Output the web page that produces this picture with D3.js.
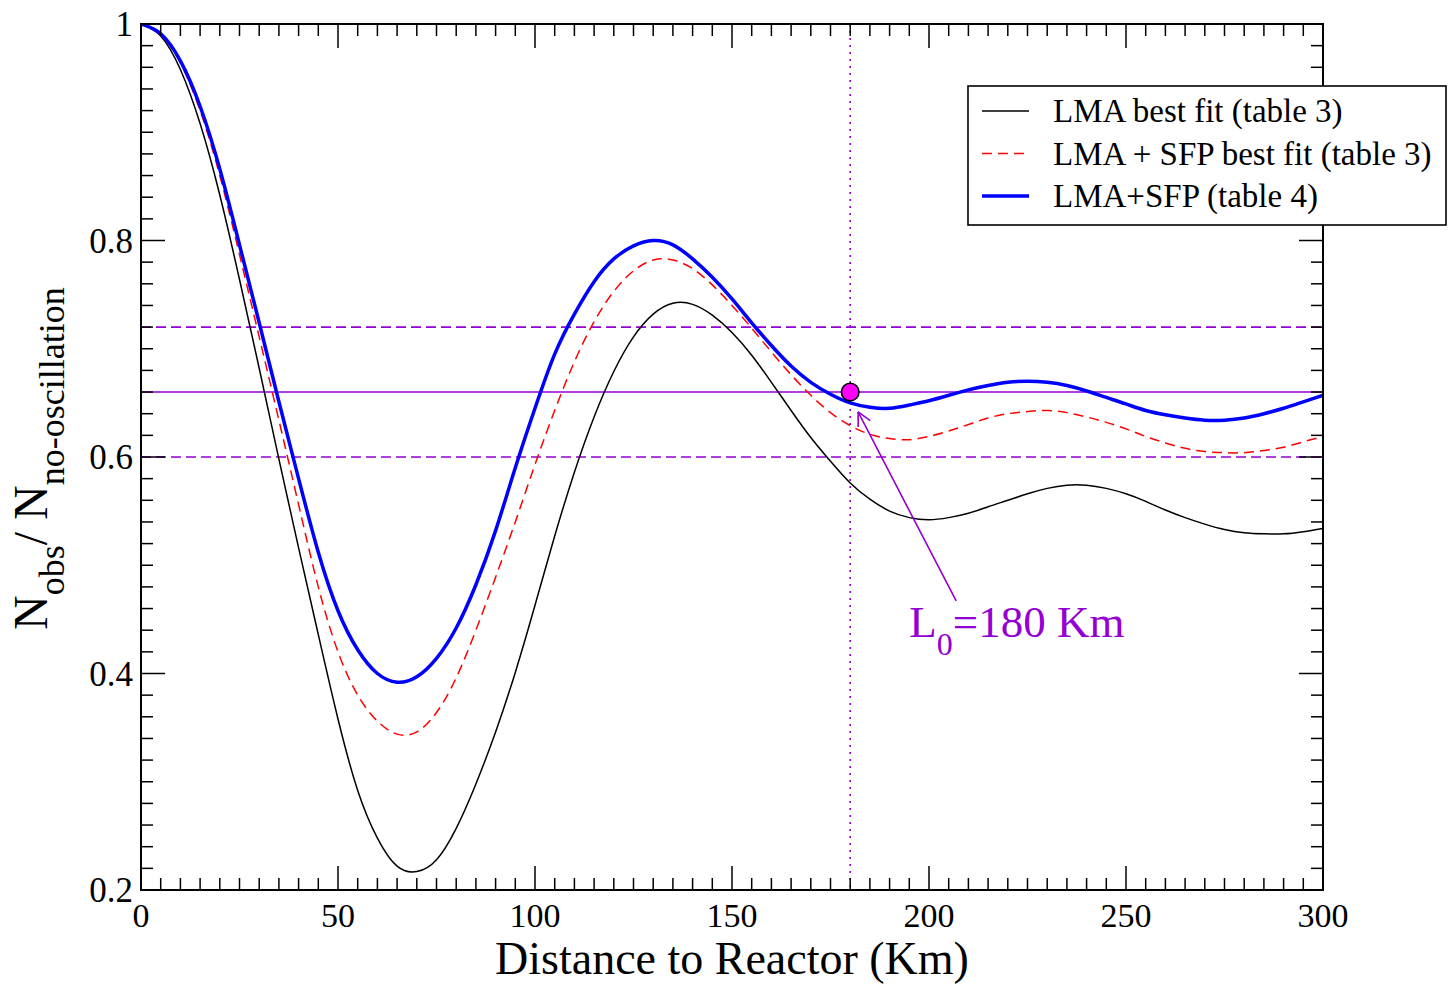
<!DOCTYPE html>
<html>
<head>
<meta charset="utf-8">
<script src="https://cdn.jsdelivr.net/npm/d3@7"></script>
<style>
  body { margin: 0; background: #fff; }
  svg { font-family: "Liberation Serif", "Times New Roman", serif; }
</style>
</head>
<body>
<svg id="chart"></svg>
<script>
// distance to reactor (km)
const distances = [0, 5, 10, 15, 20, 25, 30, 35, 40, 45, 50, 55, 60, 65, 70, 75, 80, 85, 90, 95,
  100, 105, 110, 115, 120, 125, 130, 135, 140, 145, 150, 155, 160, 165, 170, 175, 180, 185, 190, 195,
  200, 205, 210, 215, 220, 225, 230, 235, 240, 245, 250, 255, 260, 265, 270, 275, 280, 285, 290, 295, 300];

// LMA best fit (table 3)
const lmaBest = [1.000, 0.989, 0.958, 0.908, 0.842, 0.764, 0.682, 0.598, 0.516, 0.436, 0.358, 0.292, 0.248, 0.222, 0.217, 0.228, 0.257, 0.298, 0.346, 0.401,
  0.463, 0.527, 0.586, 0.637, 0.679, 0.711, 0.732, 0.742, 0.741, 0.731, 0.715, 0.694, 0.669, 0.643, 0.618, 0.596, 0.576, 0.561, 0.550, 0.544,
  0.542, 0.544, 0.548, 0.554, 0.560, 0.566, 0.571, 0.574, 0.574, 0.571, 0.566, 0.559, 0.551, 0.544, 0.538, 0.533, 0.530, 0.529, 0.529, 0.531, 0.534];

// LMA + SFP best fit (table 3)
const lmaSfpBest = [1.000, 0.990, 0.964, 0.920, 0.860, 0.787, 0.711, 0.634, 0.556, 0.480, 0.420, 0.380, 0.356, 0.344, 0.346, 0.364, 0.396, 0.440, 0.489, 0.540,
  0.593, 0.643, 0.688, 0.725, 0.753, 0.772, 0.782, 0.782, 0.774, 0.759, 0.740, 0.719, 0.697, 0.676, 0.657, 0.641, 0.629, 0.621, 0.617, 0.616,
  0.619, 0.624, 0.630, 0.636, 0.640, 0.642, 0.643, 0.641, 0.637, 0.632, 0.626, 0.619, 0.613, 0.608, 0.605, 0.604, 0.604, 0.606, 0.609, 0.614, 0.619];

// LMA+SFP (table 4)
const lmaSfpT4 = [1.000, 0.991, 0.966, 0.924, 0.866, 0.796, 0.724, 0.651, 0.580, 0.512, 0.458, 0.422, 0.400, 0.392, 0.397, 0.414, 0.442, 0.482, 0.532, 0.590,
  0.645, 0.695, 0.732, 0.762, 0.783, 0.795, 0.800, 0.796, 0.783, 0.766, 0.746, 0.724, 0.703, 0.684, 0.669, 0.658, 0.650, 0.646, 0.645, 0.648,
  0.652, 0.657, 0.662, 0.666, 0.669, 0.670, 0.669, 0.666, 0.661, 0.655, 0.649, 0.643, 0.639, 0.636, 0.634, 0.634, 0.636, 0.640, 0.645, 0.651, 0.657];

const xTicks = [0, 50, 100, 150, 200, 250, 300];
const yTicks = [0.2, 0.4, 0.6, 0.8, 1];
const yLabels = ["0.2", "0.4", "0.6", "0.8", "1"];

// measured ratio and its band, baseline L0
const ratioCentral = 0.66;
const ratioBand = [0.60, 0.72];
const L0 = 180;

const series = [
  { name: "LMA best fit (table 3)", values: lmaBest, color: "#000", width: 1.5, dash: null },
  { name: "LMA + SFP best fit (table 3)", values: lmaSfpBest, color: "#ff0000", width: 1.5, dash: "10,6" },
  { name: "LMA+SFP (table 4)", values: lmaSfpT4, color: "#0000ff", width: 3.5, dash: null }
];

const W = 1453, H = 985;
const margin = { top: 24, right: 130, bottom: 95, left: 141 },
      width = W - margin.left - margin.right,
      height = H - margin.top - margin.bottom;

const svgRoot = d3.select("#chart").attr("width", W).attr("height", H);
const svg = svgRoot.append("g").attr("transform", `translate(${margin.left},${margin.top})`);

const x = d3.scaleLinear().domain([0, 300]).range([0, width]);
const y = d3.scaleLinear().domain([0.2, 1]).range([height, 0]);

const purple = "#9400d3";

svg.append("defs").append("clipPath").attr("id", "clip")
  .append("rect").attr("width", width).attr("height", height);

// reference lines
const refs = svg.append("g").attr("clip-path", "url(#clip)");
refs.append("line")
  .attr("x1", 0).attr("x2", width)
  .attr("y1", y(ratioCentral)).attr("y2", y(ratioCentral))
  .attr("stroke", purple).attr("stroke-width", 1.6);
ratioBand.forEach(v => {
  refs.append("line")
    .attr("x1", 0).attr("x2", width)
    .attr("y1", y(v)).attr("y2", y(v))
    .attr("stroke", purple).attr("stroke-width", 1.6)
    .attr("stroke-dasharray", "10,5");
});
refs.append("line")
  .attr("x1", x(L0)).attr("x2", x(L0))
  .attr("y1", 0).attr("y2", height)
  .attr("stroke", purple).attr("stroke-width", 1.6)
  .attr("stroke-dasharray", "2,5");

// curves
const line = d3.line()
  .x((d, i) => x(distances[i]))
  .y(d => y(d))
  .curve(d3.curveNatural);

const curves = svg.append("g").attr("clip-path", "url(#clip)");
series.forEach(s => {
  curves.append("path")
    .datum(s.values)
    .attr("d", line)
    .attr("fill", "none")
    .attr("stroke", s.color)
    .attr("stroke-width", s.width)
    .attr("stroke-dasharray", s.dash);
});

// measured point
svg.append("circle")
  .attr("cx", x(L0)).attr("cy", y(ratioCentral)).attr("r", 8.8)
  .attr("fill", "#ff00ff").attr("stroke", "#000").attr("stroke-width", 1.6);

// annotation arrow
const tip = [x(182), y(0.6416)], tail = [x(206.9), y(0.467)];
const ang = Math.atan2(tail[1] - tip[1], tail[0] - tip[0]);
const ann = svg.append("g").attr("stroke", purple).attr("stroke-width", 1.6).attr("fill", "none");
ann.append("line").attr("x1", tail[0]).attr("y1", tail[1]).attr("x2", tip[0]).attr("y2", tip[1]);
[-0.47, 0.47].forEach(a => {
  ann.append("line")
    .attr("x1", tip[0]).attr("y1", tip[1])
    .attr("x2", tip[0] + 15 * Math.cos(ang + a))
    .attr("y2", tip[1] + 15 * Math.sin(ang + a));
});
const lab = svg.append("text")
  .attr("x", x(195)).attr("y", y(0.434))
  .attr("fill", purple).style("font-size", "45px");
lab.append("tspan").text("L");
lab.append("tspan").attr("dy", 18).style("font-size", "32px").text("0");
lab.append("tspan").attr("dy", -18).text("=180 Km");

// inward ticks on all four sides
const xMinor = d3.range(0, 301, 5);
const yMinor = d3.range(0, 41).map(i => 0.2 + i * 0.02);

const axes = svg.append("g").attr("stroke", "#000").attr("stroke-width", 1.5);
xMinor.forEach(v => {
  const len = v % 50 === 0 ? 24 : 12;
  axes.append("line").attr("x1", x(v)).attr("x2", x(v)).attr("y1", height).attr("y2", height - len);
  axes.append("line").attr("x1", x(v)).attr("x2", x(v)).attr("y1", 0).attr("y2", len);
});
yMinor.forEach((v, i) => {
  const len = i % 10 === 0 ? 24 : 12;
  axes.append("line").attr("x1", 0).attr("x2", len).attr("y1", y(v)).attr("y2", y(v));
  axes.append("line").attr("x1", width).attr("x2", width - len).attr("y1", y(v)).attr("y2", y(v));
});
svg.append("rect")
  .attr("width", width).attr("height", height)
  .attr("fill", "none").attr("stroke", "#000").attr("stroke-width", 2);

svg.append("g").selectAll("text").data(xTicks).join("text")
  .attr("x", d => x(d)).attr("y", height + 37)
  .attr("text-anchor", "middle").style("font-size", "34px")
  .text(d => d);
svg.append("g").selectAll("text").data(yTicks).join("text")
  .attr("x", -8).attr("y", d => y(d) + 12)
  .attr("text-anchor", "end").style("font-size", "35px")
  .text((d, i) => yLabels[i]);

// axis titles
svg.append("text")
  .attr("x", width / 2).attr("y", height + 84)
  .attr("text-anchor", "middle").style("font-size", "46px")
  .text("Distance to Reactor (Km)");

const yt = svgRoot.append("text")
  .attr("transform", "translate(47,630) rotate(-90)")
  .style("font-size", "48px");
yt.append("tspan").text("N");
yt.append("tspan").attr("dy", 17).style("font-size", "36px").text("obs");
yt.append("tspan").attr("dy", -17).text("/");
yt.append("tspan").text(" N");
yt.append("tspan").attr("dy", 17).style("font-size", "36px").text("no-oscillation");

// legend
const lg = svgRoot.append("g").attr("transform", "translate(968,86)");
lg.append("rect").attr("width", 478).attr("height", 139)
  .attr("fill", "#fff").attr("stroke", "#000").attr("stroke-width", 1.6);
series.forEach((s, i) => {
  const cy = 25 + i * 42.5;
  lg.append("line").attr("x1", 14).attr("x2", 61).attr("y1", cy).attr("y2", cy)
    .attr("stroke", s.color).attr("stroke-width", s.width).attr("stroke-dasharray", s.dash);
  lg.append("text").attr("x", 85).attr("y", cy + 11)
    .style("font-size", "33px").text(s.name);
});
</script>
</body>
</html>
